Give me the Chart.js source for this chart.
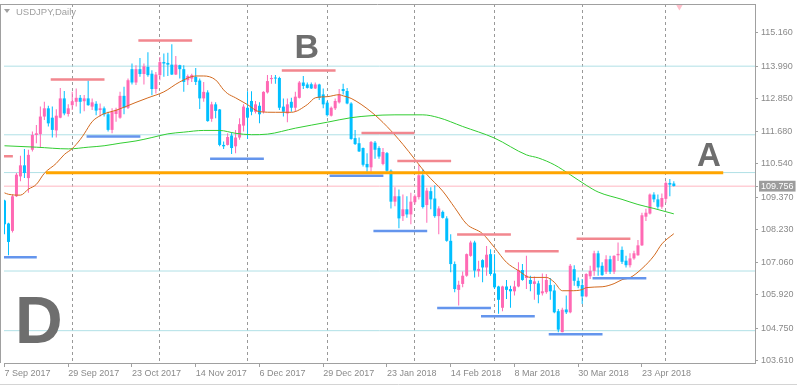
<!DOCTYPE html>
<html>
<head>
<meta charset="utf-8">
<title>USDJPY,Daily</title>
<script src="https://cdn.jsdelivr.net/npm/chart.js@4.4.1/dist/chart.umd.min.js"></script>
<style>
  html, body { margin: 0; padding: 0; background: #fff; }
</style>
</head>
<body>
<canvas id="chart" width="797" height="386"></canvas>
<script>
// daily bars, bar 0 = 7 Sep 2017, bar 168 = 3 May 2018
const opens = [
  109.25, 108.44, 108.18, 109.40, 110.10, 110.49, 110.04, 111.04, 111.56, 111.59,
  112.21, 112.50, 112.17, 111.72, 112.17, 112.85, 112.30, 112.61, 112.73, 112.87,
  112.75, 112.85, 112.56, 112.66, 112.44, 112.50, 112.29, 111.74, 112.30, 112.17,
  112.94, 112.52, 113.88, 113.41, 113.88, 113.71, 113.96, 113.72, 113.18, 113.67,
  114.13, 114.10, 114.04, 113.69, 114.02, 113.88, 113.49, 113.55, 113.61, 113.48,
  112.85, 113.06, 112.13, 112.64, 112.46, 111.21, 111.21, 111.54, 111.16, 111.47,
  111.89, 112.52, 112.76, 112.38, 112.59, 112.38, 113.06, 113.53, 113.57, 113.57,
  112.56, 112.32, 112.73, 112.52, 112.87, 113.41, 113.34, 113.35, 113.20, 113.34,
  112.99, 112.70, 112.24, 112.50, 112.71, 113.18, 113.11, 112.67, 111.45, 111.27,
  111.10, 110.54, 110.42, 111.29, 111.10, 110.54, 110.92, 110.30, 109.21, 109.40,
  108.70, 108.94, 108.76, 109.19, 109.37, 110.14, 109.09, 109.58, 109.32, 108.70,
  108.85, 108.62, 107.83, 107.01, 106.10, 106.31, 106.60, 107.30, 107.77, 106.76,
  107.15, 106.89, 107.36, 106.68, 106.22, 105.47, 106.22, 106.13, 106.05, 106.22,
  106.80, 106.52, 106.45, 106.31, 106.33, 105.98, 106.02, 106.27, 106.08, 105.35,
  104.61, 105.41, 105.31, 106.83, 106.42, 106.27, 105.87, 106.58, 106.77, 107.39,
  106.95, 106.74, 107.18, 106.74, 107.32, 107.51, 107.13, 106.97, 107.21, 107.32,
  107.67, 108.68, 108.79, 109.46, 109.29, 109.03, 109.31, 109.87, 109.85
];
const highs = [
  109.28, 108.47, 109.46, 110.22, 110.83, 111.07, 111.04, 111.68, 111.91, 112.56,
  112.73, 112.59, 112.56, 112.47, 113.22, 113.11, 112.64, 113.08, 113.20, 112.97,
  112.97, 113.48, 112.85, 112.75, 112.67, 112.56, 112.38, 112.50, 112.52, 113.08,
  113.26, 113.55, 114.08, 114.02, 114.27, 114.08, 114.48, 113.84, 113.78, 114.31,
  114.43, 114.46, 114.76, 114.34, 114.04, 114.02, 113.69, 113.72, 113.92, 113.55,
  113.43, 113.14, 112.73, 112.71, 112.48, 111.33, 111.62, 111.66, 111.74, 112.15,
  112.64, 113.10, 113.10, 112.76, 112.71, 113.10, 113.67, 113.67, 113.67, 113.61,
  112.85, 112.85, 112.87, 113.08, 113.46, 113.64, 113.41, 113.41, 113.41, 113.37,
  113.20, 112.76, 112.56, 112.85, 113.18, 113.37, 113.22, 112.71, 111.74, 111.47,
  111.12, 110.92, 111.35, 111.35, 111.16, 111.10, 110.96, 110.34, 109.72, 109.64,
  109.46, 109.40, 109.52, 109.46, 110.51, 110.34, 109.70, 109.72, 109.79, 109.05,
  108.90, 108.70, 108.06, 107.10, 106.42, 106.75, 107.38, 107.83, 107.83, 107.13,
  107.18, 107.65, 107.53, 107.36, 106.25, 106.25, 106.45, 106.25, 106.42, 107.07,
  107.01, 107.30, 106.60, 106.57, 106.42, 106.68, 106.66, 106.52, 106.28, 105.43,
  105.47, 105.90, 107.01, 106.97, 106.54, 106.48, 106.69, 106.95, 107.48, 107.48,
  107.07, 107.32, 107.30, 107.32, 107.77, 107.63, 107.30, 107.39, 107.48, 107.86,
  108.82, 108.96, 109.50, 109.54, 109.46, 109.50, 109.93, 110.01, 109.93
];
const lows = [
  108.06, 107.32, 108.12, 109.37, 109.93, 110.04, 109.52, 110.98, 111.27, 111.10,
  112.09, 111.86, 111.47, 111.47, 112.15, 112.26, 112.21, 112.44, 112.56, 112.32,
  112.40, 112.59, 112.44, 112.26, 112.21, 112.21, 111.68, 111.62, 112.03, 112.13,
  112.29, 112.48, 113.34, 113.32, 113.61, 113.34, 113.61, 112.96, 113.02, 113.49,
  113.61, 113.64, 113.67, 113.67, 113.55, 113.08, 113.32, 113.43, 113.32, 112.48,
  112.73, 112.03, 112.03, 112.15, 111.16, 111.07, 111.19, 110.89, 110.92, 111.39,
  111.68, 111.42, 112.26, 112.32, 111.97, 112.32, 113.02, 113.37, 113.37, 112.44,
  112.21, 112.01, 112.38, 112.38, 112.85, 113.18, 113.20, 113.18, 113.18, 112.79,
  112.50, 112.21, 112.21, 112.44, 112.67, 112.99, 112.64, 111.39, 111.21, 110.96,
  110.45, 110.26, 110.26, 110.72, 110.72, 110.49, 110.26, 108.97, 109.05, 108.27,
  108.53, 108.64, 108.41, 109.11, 109.29, 108.97, 108.47, 108.94, 108.64, 108.06,
  108.62, 107.80, 106.72, 106.02, 105.55, 106.19, 106.56, 107.27, 106.54, 106.56,
  106.37, 106.60, 106.60, 106.13, 105.26, 105.35, 105.78, 105.47, 105.90, 106.19,
  106.42, 106.13, 106.05, 105.75, 105.63, 105.90, 105.96, 105.75, 105.28, 104.61,
  104.61, 105.25, 105.28, 106.25, 106.16, 105.60, 105.84, 106.48, 106.60, 106.60,
  106.60, 106.66, 106.66, 106.66, 107.12, 107.01, 106.89, 106.89, 107.16, 107.30,
  107.65, 108.53, 108.76, 109.19, 108.96, 108.96, 109.17, 109.40, 109.74
];
const closes = [
  108.41, 107.79, 109.40, 110.16, 110.49, 110.22, 110.86, 111.56, 111.62, 112.21,
  112.50, 111.97, 111.74, 112.24, 112.85, 112.32, 112.50, 112.75, 112.87, 112.73,
  112.85, 112.61, 112.71, 112.42, 112.50, 112.29, 111.74, 112.38, 112.45, 112.94,
  112.52, 113.49, 113.41, 113.88, 113.71, 113.98, 113.67, 113.18, 113.69, 114.13,
  114.08, 114.04, 113.69, 114.04, 113.88, 113.43, 113.64, 113.67, 113.43, 112.85,
  113.08, 112.05, 112.64, 112.41, 111.21, 111.16, 111.49, 111.10, 111.47, 111.94,
  112.56, 112.17, 112.38, 112.64, 112.29, 113.08, 113.46, 113.57, 113.55, 112.52,
  112.38, 112.64, 112.52, 112.91, 113.41, 113.29, 113.22, 113.20, 113.34, 112.87,
  112.64, 112.26, 112.52, 112.76, 112.99, 113.11, 112.67, 111.42, 111.24, 110.98,
  110.51, 110.42, 111.31, 111.04, 110.80, 110.96, 110.30, 109.21, 109.40, 108.62,
  108.94, 108.76, 109.21, 109.40, 110.14, 109.02, 109.60, 109.29, 108.70, 108.97,
  108.64, 107.83, 107.01, 106.13, 106.28, 106.60, 107.36, 107.77, 106.78, 106.84,
  106.89, 107.34, 106.66, 106.19, 105.75, 106.22, 106.10, 106.05, 106.22, 106.80,
  106.45, 106.60, 106.31, 106.40, 105.93, 106.05, 106.45, 106.05, 105.31, 104.70,
  105.40, 105.31, 106.95, 106.42, 106.23, 105.87, 106.66, 106.77, 107.39, 106.89,
  106.62, 107.18, 106.74, 107.30, 107.37, 107.09, 106.97, 107.21, 107.39, 107.67,
  108.73, 108.82, 109.46, 109.29, 109.03, 109.34, 109.87, 109.81, 109.76
];

// time axis: a label every 16 bars, dotted separators at the first bar of each month
const dateTicks = [0, 16, 32, 48, 64, 80, 96, 112, 128, 144, 160];
const dateLabels = ['7 Sep 2017', '29 Sep 2017', '23 Oct 2017', '14 Nov 2017', '6 Dec 2017',
  '29 Dec 2017', '23 Jan 2018', '14 Feb 2018', '8 Mar 2018', '30 Mar 2018', '23 Apr 2018'];
const monthStarts = [17, 39, 61, 81, 103, 123, 145, 166];

// price axis
const priceTicks = [103.61, 104.75, 105.92, 107.06, 108.23, 109.37, 110.54, 111.68, 112.85, 113.99, 115.16];
const lastPrice = 109.756;

// moving averages
const fastMaBars = [0, 1, 4, 6, 8, 10, 13, 15, 17, 19, 20, 22, 24, 25, 28, 33, 36, 40, 44, 48, 50, 53, 55, 56, 58,
  61, 64, 68, 72, 76, 78, 81, 84, 85, 87, 92, 96, 100, 103, 106, 110, 113, 116, 120, 123, 126, 129, 132,
  136, 138, 140, 142, 145, 146, 150, 153, 155, 157, 160, 163, 165, 168];
const fastMaValues = [109.52, 109.47, 109.44, 109.65, 109.82, 110.21, 110.56, 110.87, 111.08, 111.40, 111.60,
  112.03, 112.24, 112.31, 112.43, 112.71, 112.87, 113.08, 113.43, 113.64, 113.64, 113.50, 113.15, 113.02, 112.87,
  112.63, 112.38, 112.36, 112.36, 112.63, 112.87, 112.91, 112.98, 112.94, 112.85, 112.38, 111.86, 111.23, 110.70,
  110.17, 109.58, 109.00, 108.42, 108.08, 107.59, 107.07, 106.78, 106.54, 106.54, 106.37, 106.07, 106.07, 106.11,
  106.18, 106.21, 106.32, 106.46, 106.53, 106.85, 107.30, 107.72, 108.08];
const slowMaBars = [0, 8, 16, 21, 25, 29, 33, 37, 41, 45, 50, 54, 58, 62, 66, 73, 81, 87, 92, 98, 105, 109,
  115, 123, 131, 134, 138, 142, 146, 149, 155, 159, 163, 168];
const slowMaValues = [111.18, 111.13, 111.07, 111.13, 111.18, 111.27, 111.35, 111.47, 111.60, 111.66, 111.72,
  111.72, 111.62, 111.57, 111.59, 111.80, 112.01, 112.17, 112.24, 112.27, 112.27, 112.17, 111.86, 111.45, 110.86,
  110.75, 110.51, 110.16, 109.79, 109.55, 109.29, 109.11, 108.97, 108.78];

// drawn objects
const levelLines = [113.986, 111.567, 110.235, 106.765, 104.662];
const keyLevel = 110.23, keyLevelFrom = 10.4, keyLevelTo = 180.4;
const highMarkFrom = [-4, 11.6, 33.6, 69.6, 89.6, 98.6, 113.6, 125.6, 143.6];
const highMarkTo = [2.1, 25.1, 47.1, 83.1, 102.9, 112.1, 127.1, 139.1, 157.1];
const highMarkPrice = [110.81, 113.52, 114.89, 113.83, 111.63, 110.64, 108.05, 107.46, 107.90];
const lowMarkFrom = [-5, 20.6, 51.6, 81.6, 92.6, 108.6, 119.6, 136.6, 147.6];
const lowMarkTo = [8.1, 34.1, 65.1, 95.1, 106.1, 122.1, 133.1, 150.1, 161.1];
const lowMarkPrice = [107.25, 111.51, 110.72, 110.12, 108.18, 105.46, 105.17, 104.54, 106.51];
const alertBar = 169.4, alertPrice = 116.09;

const BULL = '#ff69b4', BEAR = '#00bfff', AXIS = '#a0a0a0', LABEL = '#8a8a8a';

function segments(from, to, price) {
  const pts = [];
  for (let k = 0; k < from.length; k++) {
    pts.push({ x: from[k], y: price[k] }, { x: to[k], y: price[k] }, { x: to[k], y: null });
  }
  return pts;
}

const candleColors = closes.map((c, i) => (c >= opens[i] ? BULL : BEAR));
const wickData = lows.map((l, i) => ({ x: i, y: [l, highs[i]] }));
const bodyData = opens.map((o, i) => ({ x: i, y: [o, closes[i]] }));

const lineBase = { type: 'line', pointRadius: 0, borderWidth: 1, tension: 0, fill: false };

const decor = {
  id: 'decor',
  afterDraw(chart) {
    const { ctx, chartArea: a } = chart;
    ctx.save();
    ctx.strokeStyle = AXIS;
    ctx.lineWidth = 1;
    ctx.beginPath();
    ctx.moveTo(0, a.top + 0.5); ctx.lineTo(a.right, a.top + 0.5);
    ctx.moveTo(0.5, a.top); ctx.lineTo(0.5, a.bottom);
    ctx.stroke();
    ctx.strokeStyle = '#d4d4d4';
    ctx.beginPath();
    ctx.moveTo(0, 384.5); ctx.lineTo(797, 384.5);
    ctx.stroke();

    // title
    ctx.fillStyle = AXIS;
    ctx.beginPath();
    ctx.moveTo(4, 9); ctx.lineTo(10, 9); ctx.lineTo(7, 13); ctx.closePath();
    ctx.fill();
    ctx.font = '9.5px "Liberation Sans", Arial, sans-serif';
    ctx.textBaseline = 'alphabetic';
    ctx.fillText('USDJPY,Daily', 16, 15);

    // chart labels
    ctx.fillStyle = '#6e6e6e';
    ctx.font = 'bold 34px "Liberation Sans", Arial, sans-serif';
    ctx.fillText('B', 294.5, 58);
    ctx.font = 'bold 33px "Liberation Sans", Arial, sans-serif';
    ctx.fillText('A', 697, 166);
    ctx.font = 'bold 66px "Liberation Sans", Arial, sans-serif';
    ctx.fillText('D', 15, 343);
    ctx.restore();
  }
};

Chart.defaults.font.family = '"Liberation Sans", Arial, sans-serif';
Chart.defaults.font.size = 9;

new Chart(document.getElementById('chart'), {
  type: 'bar',
  data: {
    datasets: [
      { ...lineBase, data: segments(levelLines.map(() => -2), levelLines.map(() => 200), levelLines),
        borderColor: '#b0e0e6', order: 10 },
      { ...lineBase, data: [{ x: -2, y: lastPrice }, { x: 200, y: lastPrice }],
        borderColor: '#ffb6c1', order: 9 },
      { type: 'bar', data: wickData, backgroundColor: candleColors, barThickness: 1,
        grouped: false, borderWidth: 0, inflateAmount: 0, order: 6 },
      { type: 'bar', data: bodyData, backgroundColor: candleColors, barThickness: 3,
        grouped: false, borderWidth: 0, inflateAmount: 0, minBarLength: 1, order: 5 },
      { ...lineBase, data: slowMaBars.map((b, k) => ({ x: b, y: slowMaValues[k] })),
        borderColor: '#32cd32', cubicInterpolationMode: 'monotone', order: 4 },
      { ...lineBase, data: fastMaBars.map((b, k) => ({ x: b, y: fastMaValues[k] })),
        borderColor: '#d2691e', cubicInterpolationMode: 'monotone', order: 3 },
      { ...lineBase, data: segments(highMarkFrom, highMarkTo, highMarkPrice),
        borderColor: '#f2878f', borderWidth: 2.5, order: 2 },
      { ...lineBase, data: segments(lowMarkFrom, lowMarkTo, lowMarkPrice),
        borderColor: '#6495ed', borderWidth: 2.5, order: 2 },
      { ...lineBase, data: [{ x: keyLevelFrom, y: keyLevel }, { x: keyLevelTo, y: keyLevel }],
        borderColor: '#ffa500', borderWidth: 3, order: 1 },
      { ...lineBase, data: [{ x: alertBar, y: alertPrice }], showLine: false, pointRadius: 4,
        pointStyle: 'triangle', rotation: 180, backgroundColor: '#ffc0cb', borderWidth: 0, order: 0 }
    ]
  },
  options: {
    responsive: false,
    animation: false,
    events: [],
    layout: { padding: { left: 1, top: 2, right: 0, bottom: 0 } },
    plugins: { legend: { display: false }, tooltip: { enabled: false }, title: { display: false } },
    scales: {
      x: {
        type: 'linear', position: 'bottom', min: -0.125, max: 188.375, offset: false,
        afterBuildTicks: (s) => { s.ticks = dateTicks.map((v) => ({ value: v })); },
        afterFit: (s) => { s.height = 23; s.paddingLeft = 0; s.paddingRight = 0; },
        ticks: {
          autoSkip: false, maxRotation: 0, align: 'start', padding: 1, color: LABEL,
          callback: (v) => dateLabels[dateTicks.indexOf(v)]
        },
        grid: { offset: false, drawOnChartArea: false, tickLength: 4, tickColor: AXIS },
        border: { color: AXIS }
      },
      months: {
        type: 'linear', position: 'bottom', min: -0.125, max: 188.375, offset: false,
        afterBuildTicks: (s) => { s.ticks = monthStarts.map((v) => ({ value: v })); },
        afterFit: (s) => { s.height = 0; s.paddingLeft = 0; s.paddingRight = 0; },
        ticks: { display: false },
        grid: { offset: false, color: '#999999', drawTicks: false },
        border: { display: false, dash: [3, 3] }
      },
      y: {
        type: 'linear', position: 'right', min: 103.523, max: 116.177,
        afterBuildTicks: (s) => {
          s.ticks = priceTicks.map((v) => ({ value: v }));
          s.ticks.push({ value: lastPrice, current: true });
        },
        afterFit: (s) => { s.width = 42; s.paddingTop = 0; s.paddingBottom = 0; },
        ticks: {
          autoSkip: false, padding: 3,
          color: (c) => (c.tick && c.tick.current ? '#ffffff' : LABEL),
          showLabelBackdrop: (c) => !!(c.tick && c.tick.current),
          backdropColor: '#9c9c9c',
          backdropPadding: { x: 2, y: 0 },
          callback: (v) => v.toFixed(3)
        },
        grid: { drawOnChartArea: false, tickLength: 3, tickColor: AXIS },
        border: { color: AXIS }
      }
    }
  },
  plugins: [decor]
});
</script>
</body>
</html>
